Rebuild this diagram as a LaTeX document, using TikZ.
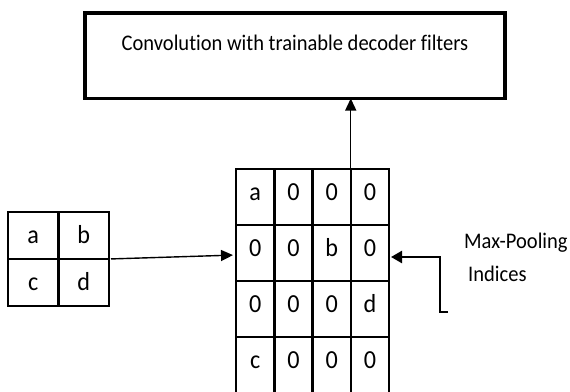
\documentclass[tikz,border=0pt]{standalone}
\usepackage{fontspec}
\setmainfont{Carlito}[Ligatures=NoCommon]
\usetikzlibrary{arrows.meta}
\tikzset{
  titlebox/.style={draw, line width=3.5pt, minimum width=420pt, minimum height=85.5pt, outer sep=0pt, anchor=north west},
  bigcell/.style={draw, line width=2.5pt, minimum width=38.25pt, minimum height=56pt, outer sep=0pt, inner sep=0pt},
  smallcell/.style={draw, line width=2.5pt, minimum width=50.5pt, minimum height=47pt, outer sep=0pt, inner sep=0pt},
  celltext/.style={font=\fontsize{26}{30}\selectfont\addfontfeatures{FakeStretch=0.93}, inner sep=0pt, anchor=base},
  lbl/.style={font=\fontsize{22.3}{26}\selectfont\addfontfeatures{FakeStretch=0.92}, inner sep=0pt},
  arr/.style={line width=1.4pt, -{Triangle[length=12pt,width=11pt]}},
  arrthick/.style={line width=2.4pt, -{Triangle[length=11pt,width=12pt]}}
}
\begin{document}
\begin{tikzpicture}[x=1pt,y=-1pt]
\useasboundingbox (0,0) rectangle (570,391);
\clip (0,0) rectangle (570,391);
% title box
\node[titlebox] (box) at (85,13) {};
\node[lbl, anchor=base] (title) at (295,50) {Convolution with trainable decoder filters};
% big grid
\foreach [count=\r] \row in {{a,0,0,0},{0,0,b,0},{0,0,0,d},{c,0,0,0}} {
  \foreach [count=\c] \v in \row {
    \node[bigcell] (g\r\c) at ({236+38.25*(\c-0.5)}, {169+56*(\r-0.5)}) {};
    \node[celltext] (t\r\c) at ([yshift=-3pt]g\r\c.center) {\v};
  }
}
% small grid
\foreach [count=\r] \row in {{a,b},{c,d}} {
  \foreach [count=\c] \v in \row {
    \node[smallcell] (s\r\c) at ({8+50.5*(\c-0.5)}, {212+47*(\r-0.5)}) {};
    \node[celltext] (u\r\c) at ([yshift=-8pt]s\r\c.center) {\v};
  }
}
% arrows
\draw[arr, shorten <=2pt, shorten >=3pt] (s12.south east) -- ([yshift=-2pt]g21.west);
\draw[arr] (g13.north east) -- (g13.north east |- box.south);
\coordinate (mp) at (448,312);
\draw[arrthick, shorten >=2pt] (mp) -- ++(-8,0) |- ([yshift=-4pt]g24.east);
% labels
\node[lbl, anchor=base west] (mpl) at (464,248) {Max-Pooling};
\node[lbl, anchor=base west] (ind) at (468,281) {Indices};
\end{tikzpicture}
\end{document}
